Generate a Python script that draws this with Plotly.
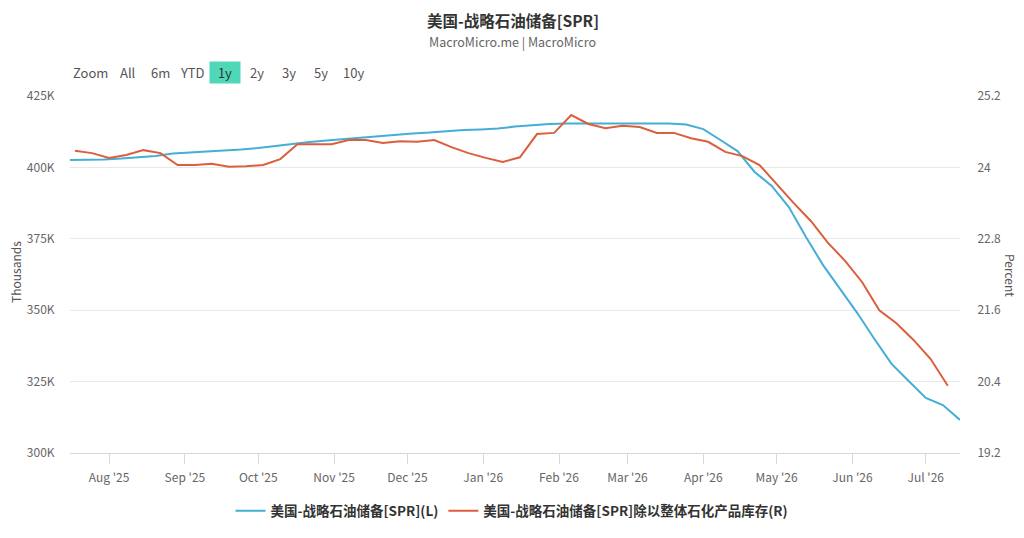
import pandas as pd
import plotly.graph_objects as go

# ---- data ----
spr_dates = pd.date_range("2025-07-16", periods=53, freq="7D")
spr_values = [402.6, 402.6, 402.8, 403.1, 403.5, 404.0, 404.9, 405.2, 405.6, 405.9,
              406.3, 406.8, 407.5, 408.4, 408.9, 409.4, 409.9, 410.5, 411.0, 411.5,
              411.9, 412.2, 412.7, 413.1, 413.3, 413.6, 414.3, 414.8, 415.2, 415.4,
              415.4, 415.4, 415.4, 415.4, 415.4, 415.4, 415.0, 413.4, 409.6, 405.7,
              398.4, 393.5, 386.1, 375.6, 365.8, 357.4, 349.0, 339.9, 331.2, 325.2,
              319.3, 316.8, 311.6]

ratio_dates = pd.date_range("2025-07-18", periods=52, freq="7D")
ratio_values = [24.28, 24.24, 24.16, 24.21, 24.29, 24.24, 24.04, 24.04, 24.06, 24.01,
                24.02, 24.04, 24.14, 24.39, 24.39, 24.39, 24.46, 24.46, 24.41, 24.44,
                24.43, 24.46, 24.34, 24.24, 24.16, 24.09, 24.17, 24.56, 24.58, 24.88,
                24.73, 24.66, 24.70, 24.68, 24.58, 24.58, 24.49, 24.43, 24.26, 24.19,
                24.04, 23.72, 23.40, 23.10, 22.73, 22.43, 22.07, 21.60, 21.38, 21.10,
                20.78, 20.33]

left_ticks = [300, 325, 350, 375, 400, 425]
left_tick_labels = ["300K", "325K", "350K", "375K", "400K", "425K"]
right_ticks = [19.2, 20.4, 21.6, 22.8, 24.0, 25.2]
right_tick_labels = ["19.2", "20.4", "21.6", "22.8", "24", "25.2"]

name_l = "美国-战略石油储备[SPR](L)"
name_r = "美国-战略石油储备[SPR]除以整体石化产品库存(R)"
title = "美国-战略石油储备[SPR]"
subtitle = "MacroMicro.me | MacroMicro"
range_buttons = ["All", "6m", "YTD", "1y", "2y", "3y", "5y", "10y"]
range_button_x = [128, 160, 192, 225, 257, 289, 321, 353]

FONT = "Noto Sans CJK SC, Noto Sans, sans-serif"
BLUE = "#45aed4"
RED = "#dc5f3d"

# the page body has an 8px margin; work in page pixels and convert
OFF = 8
W, H = 1024 - OFF, 538 - OFF
PL, PR, PT, PB = 70, 960, 96, 453  # plot area in page pixels
L, T = PL - OFF, PT - OFF
R, B = W - (PR - OFF), H - (PB - OFF)
PW, PH = PR - PL, PB - PT


def px_x(x):
    return (x - PL) / PW


def px_y(y):
    return 1 - (y - PT) / PH


fig = go.Figure()
fig.add_trace(go.Scatter(x=spr_dates, y=spr_values, name="<b>" + name_l + "</b>", mode="lines",
                         line=dict(color=BLUE, width=2), yaxis="y"))
fig.add_trace(go.Scatter(x=ratio_dates, y=ratio_values, name="<b>" + name_r + "</b>", mode="lines",
                         line=dict(color=RED, width=2), yaxis="y2"))

annotations = [
    dict(text="<b>" + title + "</b>", x=px_x(513), y=px_y(19.5), borderpad=0,
         font=dict(size=15.5, color="#333333", family=FONT)),
    dict(text=subtitle, x=px_x(512), y=px_y(41),
         font=dict(size=12.5, color="#666666", family=FONT)),
    dict(text="Zoom", x=px_x(90), y=px_y(72),
         font=dict(size=13, color="#555555", family=FONT)),
    dict(text="Thousands", x=px_x(15), y=px_y(272), textangle=-90,
         font=dict(size=12, color="#555555", family=FONT)),
    dict(text="Percent", x=px_x(1011), y=px_y(275), textangle=90,
         font=dict(size=12, color="#555555", family=FONT)),
]
for lbl, bx in zip(range_buttons, range_button_x):
    active = lbl == "1y"
    a = dict(text=lbl, x=px_x(bx), y=px_y(72),
             font=dict(size=13, color="#333333" if active else "#555555", family=FONT))
    if active:
        a.update(bgcolor="#4fd8b8", width=26, height=17, borderpad=2)
    annotations.append(a)
for a in annotations:
    a.update(xref="paper", yref="paper", showarrow=False, xanchor="center", yanchor="middle")

fig.update_layout(
    width=W, height=H,
    margin=dict(l=L, r=R, t=T, b=B, autoexpand=False),
    paper_bgcolor="white", plot_bgcolor="white",
    font=dict(family=FONT, size=12, color="#666666"),
    showlegend=True,
    legend=dict(orientation="h", x=px_x(512), xanchor="center", y=px_y(511), yanchor="middle",
                font=dict(size=13.5, color="#333333", family=FONT), traceorder="normal"),
    xaxis=dict(type="date", range=["2025-07-16", "2026-07-15"],
               tick0="2025-08-01", dtick="M1", tickformat="%b '%y",
               showgrid=False, showline=True, linecolor="#d8d8d8",
               ticks="outside", ticklen=10, tickcolor="#d8d8d8", automargin=False,
               ticklabelstandoff=4,
               tickfont=dict(size=12, color="#666666"), zeroline=False),
    yaxis=dict(range=[300, 425], tickvals=left_ticks, ticktext=left_tick_labels,
               showgrid=True, gridcolor="#e9e9e9", zeroline=False, automargin=False,
               ticks="outside", ticklen=12, tickcolor="rgba(0,0,0,0)",
               tickfont=dict(size=12, color="#666666")),
    yaxis2=dict(range=[19.2, 25.2], tickvals=right_ticks, ticktext=right_tick_labels,
                overlaying="y", side="right", showgrid=False, zeroline=False, automargin=False,
                ticks="outside", ticklen=14, tickcolor="rgba(0,0,0,0)",
                tickfont=dict(size=12, color="#666666")),
    annotations=annotations,
)

fig.write_html("out.html")
